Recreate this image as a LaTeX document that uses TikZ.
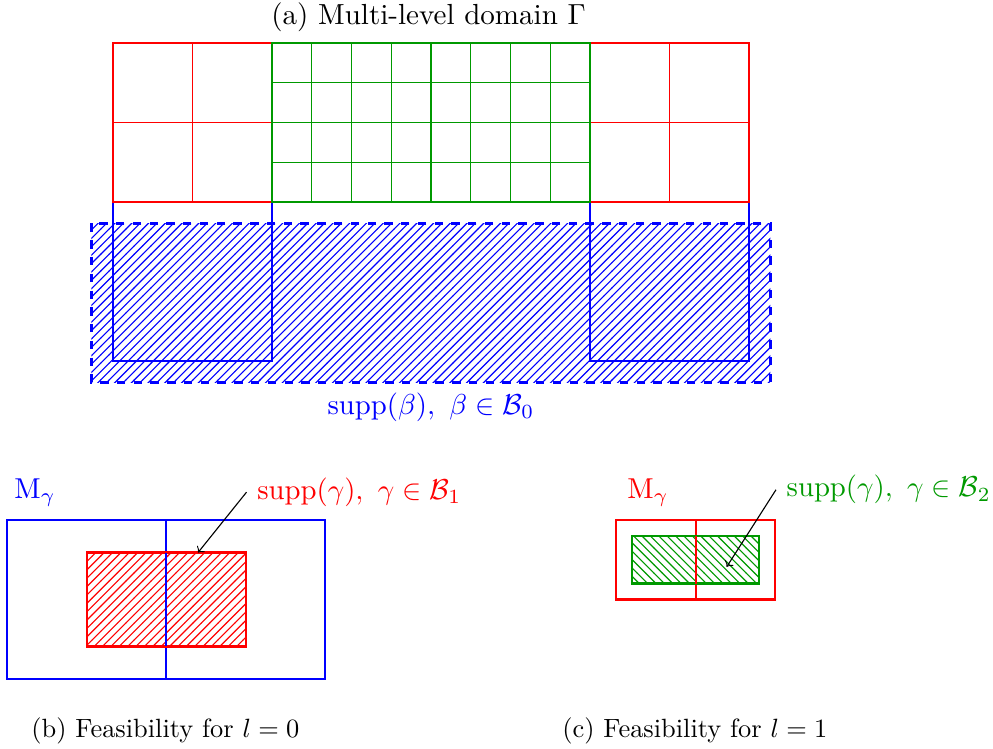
\documentclass[tikz,border=0pt]{standalone}
\usetikzlibrary{patterns}
\begin{document}
\begin{tikzpicture}[thick,
	lab/.style={scale=1.03},
	captext/.style={scale=0.945}]
	\useasboundingbox (-1.421,-6.88) rectangle (11.07,2.541);
	\node[scale=1.04] (title) at (3.97,2.33) {(a) Multi-level domain $\Gamma$};
	\fill[pattern=north east lines,pattern color=blue] (-0.27,-0.27) rectangle (8.27,-2.27);
	\draw[blue,dashed] (-0.27,-0.27) rectangle (8.27,-2.27);
	\foreach \x in {0,6}
	{
		\draw[blue] (\x,0) -- (\x,-2) -- (\x+2,-2) -- (\x+2,0);
		\draw[red,thin] (\x,0) grid (\x+2,2);
		\draw[red] (\x,0) rectangle (\x+2,2);
	}
	\draw[green!60!black,thin,step=0.5] (2,0) grid (6,2);
	\draw[green!60!black] (2,0) rectangle (6,2);
	\node[blue,lab] (suppB0) at (4,-2.58) {$\mathrm{supp}(\beta),\ \beta\in\mathcal{B}_0$};

	\draw[blue] (-1.33,-4) rectangle (2.67,-6);
	\draw[blue] (0.67,-4) -- (0.67,-6);
	\draw[red,pattern=north east lines,pattern color=red] (-0.33,-4.41) rectangle (1.67,-5.59);
	\draw[blue] (0.67,-4.41) -- (0.67,-5.59);
	\node[blue,lab] (Mb) at (-0.98,-3.66) {$\mathrm{M}_\gamma$};
	\node[red,lab,anchor=west] (suppB1) at (1.68,-3.65) {$\mathrm{supp}(\gamma),\ \gamma\in\mathcal{B}_1$};
	\coordinate (endB1) at (1.07,-4.41);
	\draw[->,thin,black] (suppB1.west) -- (endB1);
	\node[captext] (capb) at (0.66,-6.65) {(b) Feasibility for $l=0$};

	\draw[red] (6.33,-4) rectangle (8.33,-5);
	\draw[red] (7.33,-4) -- (7.33,-5);
	\draw[green!60!black,pattern=north west lines,pattern color=green!60!black] (6.53,-4.2) rectangle (8.13,-4.8);
	\draw[red] (7.33,-4.2) -- (7.33,-4.8);
	\node[red,lab] (Mc) at (6.73,-3.66) {$\mathrm{M}_\gamma$};
	\node[green!60!black,lab,anchor=west] (suppB2) at (8.34,-3.62) {$\mathrm{supp}(\gamma),\ \gamma\in\mathcal{B}_2$};
	\coordinate (endB2) at (7.72,-4.59);
	\draw[->,thin,black] (suppB2.west) -- (endB2);
	\node[captext] (capc) at (7.32,-6.65) {(c) Feasibility for $l=1$};
\end{tikzpicture}
\end{document}
